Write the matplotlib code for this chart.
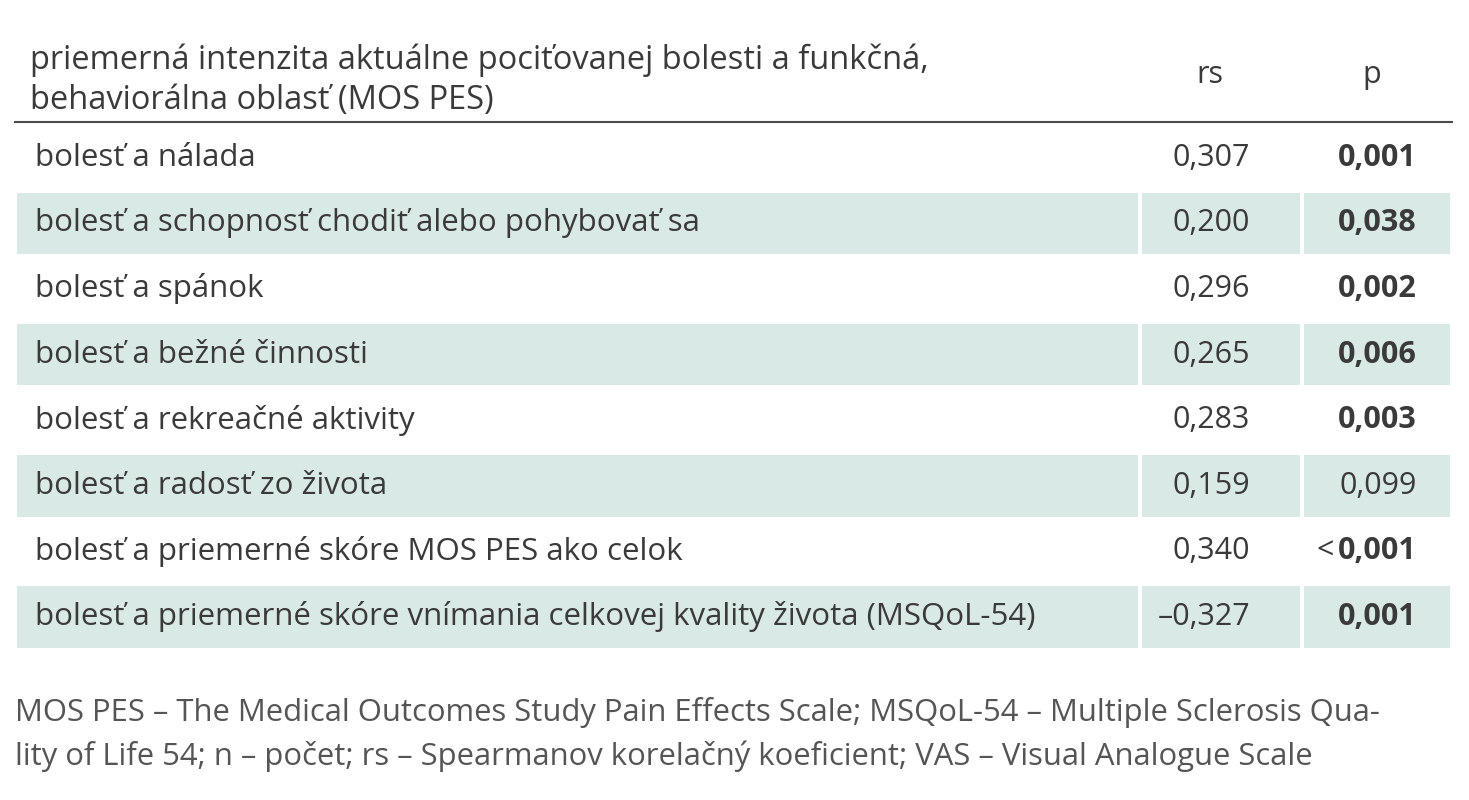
import matplotlib
matplotlib.use("Agg")
import matplotlib.pyplot as plt
from matplotlib.patches import Rectangle

plt.rcParams['font.family'] = ['Open Sans', 'DejaVu Sans']

header = ["priemerná intenzita aktuálne pociťovanej bolesti a funkčná,",
          "behaviorálna oblasť (MOS PES)"]
labels = ["bolesť a nálada",
          "bolesť a schopnosť chodiť alebo pohybovať sa",
          "bolesť a spánok",
          "bolesť a bežné činnosti",
          "bolesť a rekreačné aktivity",
          "bolesť a radosť zo života",
          "bolesť a priemerné skóre MOS PES ako celok",
          "bolesť a priemerné skóre vnímania celkovej kvality života (MSQoL-54)"]
rs = ["0,307", "0,200", "0,296", "0,265", "0,283", "0,159", "0,340", "–0,327"]
p = ["0,001", "0,038", "0,002", "0,006", "0,003", "0,099", "0,001", "0,001"]
p_prefix = ["", "", "", "", "", "", "<", ""]
p_bold = [True, True, True, True, True, False, True, True]
footnote = ["MOS PES – The Medical Outcomes Study Pain Effects Scale; MSQoL-54 – Multiple Sclerosis Qua-",
            "lity of Life 54; n – počet; rs – Spearmanov korelačný koeficient; VAS – Visual Analogue Scale"]

fig = plt.figure(figsize=(14.69, 8.0), dpi=100)
ax = fig.add_axes([0, 0, 1, 1])
ax.set_xlim(0, 1469)
ax.set_ylim(800, 0)
ax.axis("off")

txt = "#3a3a3a"
shade = "#d9e9e5"
x0, x1 = 15, 1452
col_gaps = [1140, 1302]
top, rh = 125, 65.6

ax.text(30, 60, header[0], fontsize=23.5, color=txt, va="center")
ax.text(30, 100, header[1], fontsize=23.5, color=txt, va="center")
ax.text(1210, 75, "rs", fontsize=22, color=txt, va="center", ha="center")
ax.text(1372, 75, "p", fontsize=22, color=txt, va="center", ha="center")
ax.plot([x0, x1], [122, 122], color="#4a4a4a", lw=1.5)

for i, lab in enumerate(labels):
    y = top + i * rh
    yc = y + rh / 2
    if i % 2 == 1:
        edges = [x0] + col_gaps + [x1]
        for a, b in zip(edges[:-1], edges[1:]):
            ax.add_patch(Rectangle((a + 2, y + 2), b - a - 4, rh - 4, color=shade, lw=0))
    ax.text(35, yc, lab, fontsize=22.5, color=txt, va="center")
    ax.text(1250, yc, rs[i], fontsize=22, color=txt, va="center", ha="right")
    ax.text(1417, yc, p[i], fontsize=22, color=txt, va="center", ha="right",
            fontweight="bold" if p_bold[i] else "normal")
    if p_prefix[i]:
        ax.text(1334, yc, p_prefix[i], fontsize=22, color=txt, va="center", ha="right")

ax.text(15, 712, footnote[0], fontsize=22.3, color="#555555", va="center")
ax.text(15, 756, footnote[1], fontsize=22.3, color="#555555", va="center")

fig.savefig("out.png", dpi=100)
